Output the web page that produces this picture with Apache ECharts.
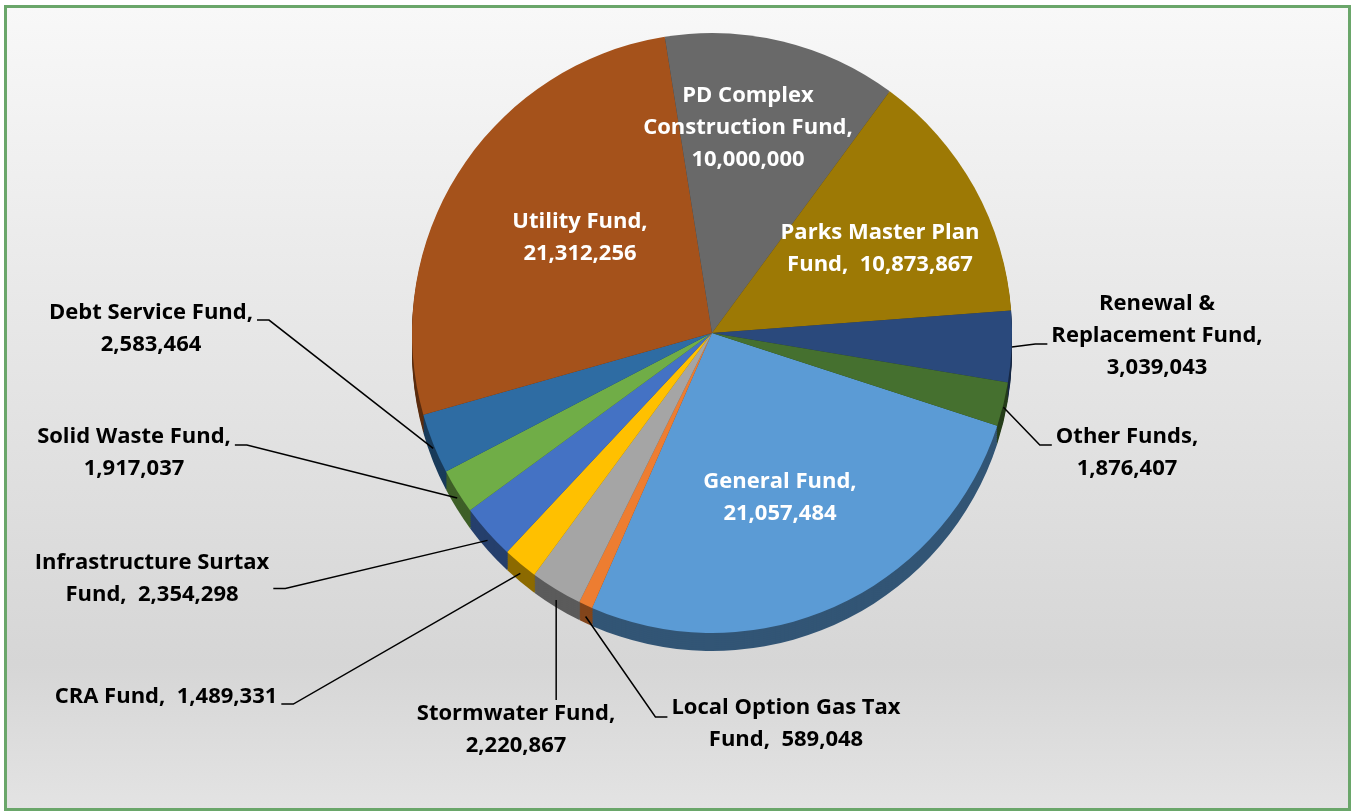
<!DOCTYPE html>
<html>
<head>
<meta charset="utf-8">
<script src="https://cdn.jsdelivr.net/npm/echarts@6/dist/echarts.min.js"></script>
<style>
  html, body { margin: 0; padding: 0; background: #ffffff; }
  #frame {
    position: absolute; left: 4px; top: 5px; width: 1341px; height: 800px;
    border: 3px solid #6aa66a;
    background: linear-gradient(to bottom, #f8f8f8 0%, #e9e9e9 35%, #d6d6d6 82%, #e3e3e3 100%);
  }
  #chart { position: absolute; left: 0; top: 0; width: 1352px; height: 811px; }
</style>
</head>
<body>
<div id="frame"></div>
<div id="chart"></div>
<script>
// Fund budgets, clockwise from General Fund
const categories = [
  'General Fund', 'Local Option Gas Tax Fund', 'Stormwater Fund', 'CRA Fund',
  'Infrastructure Surtax Fund', 'Solid Waste Fund', 'Debt Service Fund', 'Utility Fund',
  'PD Complex Construction Fund', 'Parks Master Plan Fund', 'Renewal & Replacement Fund', 'Other Funds'
];
const values = [
  21057484, 589048, 2220867, 1489331,
  2354298, 1917037, 2583464, 21312256,
  10000000, 10873867, 3039043, 1876407
];
// Label text in front of each value (with its line wrapping)
const labelHeads = [
  'General Fund,\n', 'Local Option Gas Tax\nFund,  ', 'Stormwater Fund,\n', 'CRA Fund,  ',
  'Infrastructure Surtax\nFund,  ', 'Solid Waste Fund,\n', 'Debt Service Fund,\n', 'Utility Fund,\n',
  'PD Complex\nConstruction Fund,\n', 'Parks Master Plan\nFund,  ', 'Renewal &\nReplacement Fund,\n', 'Other Funds,\n'
];

// Slice face colours
const sliceColors = [
  '#5b9bd5', '#ed7d31', '#a5a5a5', '#ffc000',
  '#4472c4', '#70ad47', '#2e6ca3', '#a5521b',
  '#696969', '#9d7905', '#2a497c', '#45702f'
];
// Which labels sit on the slice itself
const insideLabel = [true, false, false, false, false, false, false, true, true, true, false, false];
// Label block centres
const labelCentres = [
  [780, 498], [786, 724], [516, 730], [166, 697],
  [152, 579], [134, 453], [151, 329], [580, 238],
  [748, 128], [880, 249], [1157, 336], [1127, 453]
];
// Where the leader line meets its label, in text rows from the top ('top' = above the block)
const leaderRow = [null, 0.78, 'top', 0.72, 1.3, 0.75, 0.72, null, null, null, 1.75, 0.75];

const CX = 712, CY = 333, R = 300, DEPTH = 18, START = -18;
const LINE_H = 32, TICK = 12;

function shade(hex, k) {
  const n = parseInt(hex.slice(1), 16);
  const r = Math.round(((n >> 16) & 255) * k);
  const g = Math.round(((n >> 8) & 255) * k);
  const b = Math.round((n & 255) * k);
  return 'rgb(' + r + ',' + g + ',' + b + ')';
}

const fmt = v => v.toLocaleString('en-US');

// Mid angle (radians, counter-clockwise from 3 o'clock) of every slice
const total = values.reduce((a, b) => a + b, 0);
const midAngles = [];
{
  let acc = START;
  values.forEach(v => {
    const span = v / total * 360;
    midAngles.push((acc - span / 2) * Math.PI / 180);
    acc -= span;
  });
}

function leaderPoints(i, w) {
  const row = leaderRow[i];
  if (row == null) return undefined;
  const a = midAngles[i];
  const s = Math.sin(a);
  const edge = [CX + R * Math.cos(a), CY - R * s + (s < 0 ? DEPTH * Math.min(1, -s) * 0.7 : 0)];
  const lines = (labelHeads[i].match(/\n/g) || []).length + 1;
  const cx = labelCentres[i][0], cy = labelCentres[i][1];
  const top = cy - lines * LINE_H / 2;
  if (row === 'top') {
    return [edge, [edge[0], (edge[1] + top) / 2], [edge[0], top + 2]];
  }
  const y = top + row * LINE_H;
  if (cx < CX) {
    const x = cx + w / 2 + 4;
    return [edge, [x + TICK, y], [x, y]];
  }
  const x = cx - w / 2 - 4;
  return [edge, [x - TICK, y], [x, y]];
}

const series = [];
// Side wall of the disc: stacked darker copies below the face
for (let off = DEPTH; off >= 2; off -= 2) {
  series.push({
    type: 'pie',
    silent: true,
    z: 1,
    center: [CX, CY + off],
    radius: R,
    startAngle: START,
    clockwise: true,
    avoidLabelOverlap: false,
    label: { show: false },
    labelLine: { show: false },
    animation: false,
    data: categories.map((name, i) => ({
      name, value: values[i],
      itemStyle: { color: shade(sliceColors[i], 0.55) }
    }))
  });
}

// Top face with labels
series.push({
  type: 'pie',
  z: 3,
  center: [CX, CY],
  radius: R,
  startAngle: START,
  clockwise: true,
  avoidLabelOverlap: false,
  animation: false,
  itemStyle: { borderWidth: 0 },
  label: {
    show: true,
    position: 'outside',
    fontFamily: 'Open Sans',
    fontWeight: 'bold',
    fontSize: 22,
    lineHeight: LINE_H,
    color: '#000000',
    align: 'center',
    formatter: p => labelHeads[p.dataIndex] + fmt(p.value)
  },
  labelLine: {
    show: true,
    length: 10,
    length2: 12,
    lineStyle: { color: '#000000', width: 1.5 }
  },
  labelLayout: p => {
    const i = p.dataIndex;
    const out = {
      x: labelCentres[i][0],
      y: labelCentres[i][1],
      align: 'center',
      verticalAlign: 'middle'
    };
    const pts = leaderPoints(i, p.labelRect.width);
    if (pts) out.labelLinePoints = pts;
    return out;
  },
  data: categories.map((name, i) => {
    const item = { name, value: values[i], itemStyle: { color: sliceColors[i] } };
    if (insideLabel[i]) {
      item.label = { position: 'inside', color: '#ffffff' };
      item.labelLine = { show: false };
    }
    return item;
  })
});

const chart = echarts.init(document.getElementById('chart'), null, { renderer: 'canvas' });
chart.setOption({
  backgroundColor: 'transparent',
  series
});
</script>
</body>
</html>
